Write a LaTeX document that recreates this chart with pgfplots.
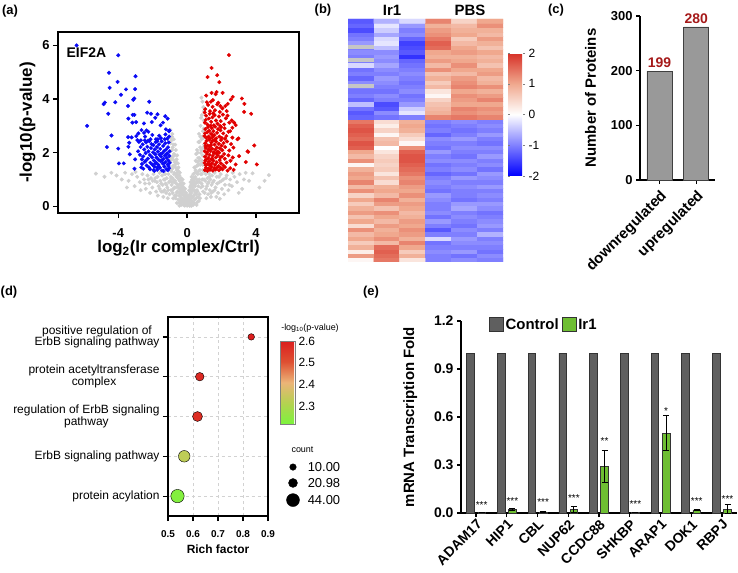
\documentclass[border=0pt]{standalone}
\usepackage{fontspec}
\setmainfont{Liberation Sans}
\usepackage{pgfplots}
\pgfplotsset{compat=1.18}
\newcommand{\fs}[1]{\fontsize{#1}{#1}\selectfont}
\definecolor{vblue}{RGB}{10,10,245}
\definecolor{vred}{RGB}{225,0,0}
\definecolor{vgray}{RGB}{208,208,208}
\definecolor{barg}{RGB}{153,153,153}
\definecolor{ctrl}{RGB}{95,95,95}
\definecolor{irg}{RGB}{110,190,50}
\definecolor{valred}{RGB}{165,25,25}
\begin{document}
\begin{tikzpicture}
\useasboundingbox (0,0) rectangle (738bp,-573bp);
% ---------------- (a) volcano
\begin{axis}[at={(58bp,-32bp)}, anchor=north west, scale only axis, width=241bp, height=181bp,
 xmin=-7.5, xmax=6.5, ymin=-0.25, ymax=6.5, xtick={-4,0,4}, ytick={0,2,4,6},
 tick pos=left, tick align=outside, major tick length=5bp,
 axis line style={line width=1.4bp}, every tick/.style={black, line width=1.4bp},
 /pgf/number format/assume math mode=true,
 ticklabel style={font=\bfseries\fs{13}},
 xticklabel style={yshift=-7bp},
 xlabel={log\textsubscript{2}(Ir complex/Ctrl)}, ylabel={-log10(p-value)},
 xlabel style={yshift=4bp},
 label style={font=\bfseries\fs{17}}]
\addplot[only marks, mark=*, mark size=1.8bp, color=vgray, mark options={draw=none}] coordinates {
(0.0,0.02)(0.03,0.1)(-0.04,0.08)(0.06,0.18)(-0.07,0.15)(0.02,0.25)(-0.02,0.3)(0.09,0.05)(-0.1,0.04)(0.11,0.35)(-0.12,0.28)
(0.14,0.12)(0.16,0.45)(0.19,0.28)(0.21,0.62)(0.23,0.08)(0.25,0.5)(0.27,0.85)(0.29,0.35)(0.18,0.72)(0.3,1.0)(0.24,0.2)
(-0.14,0.1)(-0.16,0.4)(-0.19,0.25)(-0.21,0.58)(-0.23,0.06)(-0.25,0.45)(-0.27,0.75)(-0.29,0.3)(-0.18,0.62)(-0.3,0.88)(-0.22,0.15)
(0.32,0.18)(0.34,0.6)(0.36,1.2)(0.38,0.4)(0.4,0.9)(0.42,1.45)(0.44,0.25)(0.46,0.75)(0.48,1.1)(0.5,1.7)(0.35,0.95)(0.47,0.5)(0.41,0.12)(0.49,1.35)
(-0.32,0.2)(-0.34,0.55)(-0.36,1.05)(-0.38,0.35)(-0.4,0.8)(-0.42,1.25)(-0.44,0.15)(-0.46,0.65)(-0.48,1.0)(-0.5,1.45)(-0.35,0.85)(-0.47,0.4)(-0.41,0.1)(-0.49,1.3)
(0.52,0.3)(0.54,0.9)(0.56,1.5)(0.58,2.1)(0.6,0.55)(0.62,1.2)(0.64,1.8)(0.66,2.4)(0.68,0.2)(0.7,1.0)(0.55,1.25)(0.61,2.0)(0.67,1.55)(0.59,0.15)(0.65,0.75)(0.69,2.7)(0.53,1.95)
(-0.52,0.25)(-0.54,0.8)(-0.56,1.4)(-0.58,1.9)(-0.6,0.5)(-0.62,1.1)(-0.64,1.65)(-0.66,2.1)(-0.68,0.3)(-0.7,0.95)(-0.55,1.15)(-0.61,1.75)(-0.67,1.45)(-0.59,0.12)(-0.65,0.7)(-0.69,2.3)(-0.53,1.6)
(0.72,0.45)(0.74,1.35)(0.76,2.2)(0.78,3.0)(0.8,0.7)(0.82,1.6)(0.84,2.5)(0.86,3.4)(0.88,1.0)(0.9,1.9)(0.92,2.8)(0.94,3.7)(0.96,1.3)(0.98,2.3)(0.73,1.8)(0.77,2.6)(0.81,3.3)(0.85,1.2)(0.89,3.9)(0.93,0.55)(0.97,3.2)(0.75,0.3)(0.83,4.05)(0.79,2.0)(0.91,1.55)(0.95,2.55)(0.99,3.55)(0.87,2.15)
(-0.72,0.4)(-0.74,1.25)(-0.76,1.95)(-0.78,2.5)(-0.8,0.65)(-0.82,1.5)(-0.84,2.2)(-0.86,2.7)(-0.88,0.9)(-0.9,1.75)(-0.92,2.45)(-0.94,1.1)(-0.96,2.05)(-0.98,1.4)(-0.73,1.65)(-0.77,2.3)(-0.81,0.3)(-0.85,1.05)(-0.89,2.6)(-0.93,0.6)(-0.97,2.85)(-0.75,0.9)(-0.83,1.85)(-0.91,1.3)(-0.95,2.35)(-0.99,1.65)
(1.02,0.5)(1.05,0.95)(1.08,1.2)(1.12,0.3)(1.15,0.75)(1.18,1.05)(1.22,0.45)(1.25,0.9)(1.28,1.22)(1.32,0.6)(1.35,1.0)(1.38,0.35)(1.42,0.8)(1.45,1.15)(1.5,0.55)(1.55,0.95)(1.6,1.25)
(1.65,0.7)(1.72,1.1)(1.8,0.5)(1.88,0.9)(1.95,1.2)(2.02,0.65)(2.1,1.0)(2.2,0.8)(2.3,1.15)(2.4,0.6)(2.5,1.0)(1.7,0.35)(2.15,0.45)(1.9,0.28)
(2.6,0.75)(2.75,1.1)(2.9,0.9)(3.05,1.2)(3.2,0.65)(3.4,1.25)(3.6,0.95)(3.8,1.23)(4.2,0.7)(4.5,0.95)(4.75,1.16)(3.0,0.5)(2.65,1.25)(3.3,1.0)
(-1.02,0.45)(-1.05,0.9)(-1.08,1.2)(-1.12,0.3)(-1.15,0.7)(-1.18,1.05)(-1.22,0.5)(-1.25,0.85)(-1.28,1.2)(-1.32,0.6)(-1.35,1.0)(-1.38,0.35)(-1.42,0.8)(-1.45,1.15)(-1.5,0.55)(-1.55,0.95)(-1.6,1.25)
(-1.65,0.75)(-1.72,1.1)(-1.8,0.55)(-1.88,0.95)(-1.95,1.2)(-2.02,0.7)(-2.1,1.05)(-2.2,0.85)(-2.3,1.15)(-2.4,0.65)(-2.5,1.0)(-1.7,0.4)(-2.15,0.5)(-2.6,1.2)
(-2.75,0.9)(-2.9,1.1)(-3.05,0.75)(-3.2,1.2)(-3.4,0.95)(-3.6,1.25)(-3.8,1.0)(-4.1,1.15)(-4.4,1.25)(-5.3,1.22)(-3.0,1.28)(-2.7,0.6)(-3.5,0.7)(-4.8,1.1)
(0.05,0.4)(-0.05,0.5)(0.12,0.6)(-0.12,0.65)(0.2,0.9)(-0.2,0.85)(0.08,0.3)(-0.08,0.22)(0.15,0.02)(-0.15,0.03)(0.33,0.8)(-0.33,0.7)(0.26,1.1)(-0.26,1.0)(0.44,1.0)(-0.44,0.95)(0.57,0.6)(-0.57,0.55)(0.63,0.35)(-0.63,0.4)
(0.01,0.12)(-0.01,0.18)(0.04,0.22)(-0.05,0.3)(0.07,0.38)(-0.09,0.42)(0.1,0.15)(-0.11,0.5)(0.13,0.25)(-0.13,0.35)(0.17,0.55)(-0.17,0.2)(0.2,0.4)(-0.2,0.7)(0.22,0.78)(-0.24,0.62)(0.26,0.3)(-0.26,0.2)(0.28,0.6)(-0.28,0.52)
(0.31,0.7)(-0.31,0.45)(0.33,0.35)(-0.33,1.0)(0.37,0.85)(-0.37,0.62)(0.39,1.05)(-0.39,0.25)(0.43,0.6)(-0.43,0.5)(0.45,1.25)(-0.45,1.15)(0.51,0.85)(-0.51,0.72)(0.53,0.45)(-0.53,1.05)(0.57,1.0)(-0.57,1.25)(0.6,1.65)(-0.6,1.35)
(0.63,0.9)(-0.63,0.85)(0.66,1.3)(-0.66,1.2)(0.7,1.7)(-0.7,1.55)(0.72,2.4)(-0.72,1.9)(0.74,0.9)(-0.74,0.7)(0.76,1.55)(-0.76,1.2)(0.8,1.2)(-0.8,1.0)(0.82,2.1)(-0.82,1.75)(0.84,0.85)(-0.84,0.5)(0.86,1.7)(-0.86,1.4)
(0.88,2.6)(-0.88,2.1)(0.9,0.75)(-0.9,0.8)(0.92,1.35)(-0.92,1.05)(0.94,2.2)(-0.94,1.8)(0.96,2.9)(-0.96,2.55)(0.98,1.0)(-0.98,0.95)(1.1,0.65)(-1.1,0.6)(1.2,0.85)(-1.2,0.8)(1.3,1.1)(-1.3,1.0)(1.4,0.5)(-1.4,0.55)
(1.5,0.9)(-1.5,0.85)(1.6,0.6)(-1.6,0.65)(1.75,0.85)(-1.75,0.9)(1.85,1.1)(-1.85,1.05)(2.0,0.95)(-2.0,0.95)(2.25,1.05)(-2.25,1.0)(2.45,0.8)(-2.45,0.85)(0.55,0.05)(-0.45,0.02)(0.35,0.05)(0.25,0.02)(-0.35,0.05)
};
\addplot[only marks, mark=*, mark size=1.8bp, color=vblue, mark options={draw=none}] coordinates {
(-6.42,6.0)(-4.0,5.63)(-4.54,4.98)(-3.0,4.85)(-4.04,4.64)(-4.5,4.42)(-3.55,4.36)(-3.02,4.37)(-3.84,4.16)(-3.07,4.02)(-3.13,3.97)(-4.78,3.87)(-4.85,3.81)(-4.17,3.88)(-2.2,3.9)(-3.43,3.74)(-4.58,3.45)(-3.16,3.41)(-3.06,3.41)(-2.32,3.49)(-2.1,3.45)(-1.72,3.43)(-1.27,3.36)(-1.13,3.27)(-3.41,3.27)(-3.18,3.12)(-2.96,3.14)(-1.85,3.3)(-2.05,3.14)(-2.51,3.09)(-1.4,3.12)(-1.54,3.02)(-1.23,2.87)(-1.02,2.83)(-1.05,2.8)(-2.65,2.84)(-2.36,2.83)(-2.5,2.74)(-2.25,2.78)(-2.83,2.72)(-3.22,2.57)(-3.43,2.58)(-4.39,2.64)(-2.89,2.47)(-2.69,2.46)(-2.46,2.46)(-2.13,2.5)(-1.81,2.5)(-1.74,2.42)(-1.52,2.54)(-1.15,2.52)(-3.36,2.37)(-3.41,2.22)(-4.66,2.21)(-5.81,3.0)(-4.0,2.15)(-3.33,1.94)(-3.02,1.75)(-2.63,1.75)(-3.96,1.6)(-3.68,1.6)(-3.06,1.4)(-2.54,1.4)(-2.15,1.38)(-1.95,1.35)(-1.75,1.44)(-1.37,1.31)(-1.08,1.5)
(-2.85,2.05)(-2.74,1.92)(-2.70,2.21)(-2.62,1.58)(-2.58,2.31)(-2.55,1.86)(-2.49,2.12)(-2.46,1.66)(-2.41,1.98)(-2.38,2.38)(-2.35,1.52)(-2.31,2.22)(-2.28,1.78)(-2.25,2.05)(-2.22,1.45)(-2.19,2.43)(-2.16,1.91)(-2.13,1.62)(-2.10,2.17)(-2.07,2.32)(-2.04,1.83)(-2.01,1.55)(-1.98,2.01)(-1.96,2.28)(-1.93,1.71)(-1.90,1.48)(-1.88,2.12)(-1.85,1.94)(-1.83,2.39)(-1.80,1.63)(-1.78,1.82)(-1.75,2.21)(-1.73,1.36)(-1.70,2.04)(-1.68,1.55)(-1.66,1.74)(-1.63,2.31)(-1.61,1.92)(-1.58,1.43)(-1.56,2.14)(-1.53,1.68)(-1.51,1.85)(-1.48,2.42)(-1.46,1.33)(-1.44,1.98)(-1.41,1.59)(-1.39,2.25)(-1.37,1.76)(-1.34,2.06)(-1.32,1.48)(-1.30,1.89)(-1.27,2.35)(-1.25,1.65)(-1.22,2.12)(-1.20,1.38)(-1.18,1.81)(-1.15,1.97)(-1.13,1.56)(-1.11,2.2)(-1.09,1.71)(-1.07,2.38)(-1.05,1.42)(-1.03,1.88)(-1.02,2.05)(-1.01,1.62)
(-2.95,2.62)(-2.80,2.4)(-2.66,1.45)(-2.44,2.6)(-2.02,2.66)(-1.62,2.63)(-1.26,2.68)(-1.9,1.32)(-1.45,1.72)(-1.2,1.95)(-1.64,1.49)(-2.27,2.45)(-1.35,1.6)(-1.55,1.95)(-1.12,1.35)(-1.7,2.5)(-2.4,1.7)(-1.85,1.6)(-1.05,2.6)(-1.3,2.5)
};
\addplot[only marks, mark=*, mark size=1.8bp, color=vred, mark options={draw=none}] coordinates {
(2.43,5.64)(1.42,5.16)(1.75,4.89)(1.19,4.82)(1.87,4.63)(1.11,4.13)(1.42,4.23)(1.71,4.26)(1.66,4.18)(2.06,4.23)(2.65,4.08)(3.18,4.02)(3.33,3.82)(2.36,3.82)(2.22,3.74)(1.5,3.96)(1.81,3.86)(1.93,3.74)(3.31,3.52)(3.72,3.45)(2.59,3.2)(2.82,3.03)(2.63,2.93)(2.4,2.78)(2.63,2.56)(2.98,2.53)(2.92,2.5)(3.9,2.27)(2.69,2.19)(3.51,2.05)(3.02,1.87)(3.41,1.65)(4.05,1.56)(2.82,1.56)(2.54,3.98)(2.73,3.12)(3.55,2.03)
(1.05,3.62)(1.22,3.78)(1.33,3.55)(1.48,3.71)(1.62,3.58)(1.15,3.88)(1.9,3.52)(2.05,3.65)(1.38,3.9)(1.02,3.5)(2.3,3.55)(1.75,3.8)
(1.03,3.12)(1.1,3.38)(1.18,3.05)(1.26,3.27)(1.31,3.45)(1.4,3.15)(1.47,3.32)(1.55,3.02)(1.6,3.4)(1.68,3.2)(1.77,3.08)(1.85,3.35)(1.95,3.18)(2.08,3.42)(2.15,3.05)(2.25,3.28)(2.45,3.12)(1.08,3.22)(1.36,3.01)(1.52,3.47)(1.92,3.0)(2.35,3.38)
(1.01,2.62)(1.06,2.88)(1.12,2.55)(1.17,2.76)(1.21,2.95)(1.25,2.6)(1.29,2.82)(1.34,2.52)(1.39,2.7)(1.43,2.92)(1.48,2.58)(1.53,2.8)(1.58,2.65)(1.63,2.97)(1.69,2.53)(1.74,2.74)(1.8,2.88)(1.87,2.6)(1.94,2.83)(2.01,2.55)(2.1,2.72)(2.18,2.91)(2.28,2.62)(2.5,2.8)(1.04,2.72)(1.45,2.68)(1.98,2.95)(2.2,2.52)
(1.02,2.05)(1.05,2.35)(1.09,2.18)(1.13,2.44)(1.16,2.02)(1.2,2.27)(1.24,2.12)(1.28,2.48)(1.32,2.22)(1.36,2.06)(1.41,2.38)(1.45,2.15)(1.5,2.45)(1.54,2.01)(1.59,2.3)(1.64,2.11)(1.69,2.41)(1.73,2.2)(1.79,2.04)(1.84,2.33)(1.9,2.16)(1.97,2.47)(2.04,2.09)(2.12,2.36)(2.21,2.21)(2.32,2.42)(2.45,2.08)(2.55,2.32)(1.07,2.25)(1.38,2.28)(1.62,2.47)(1.86,2.0)(2.0,2.26)
(1.01,1.62)(1.04,1.85)(1.08,1.53)(1.11,1.74)(1.15,1.95)(1.19,1.58)(1.23,1.8)(1.27,1.67)(1.31,1.92)(1.35,1.52)(1.4,1.75)(1.44,1.6)(1.49,1.88)(1.53,1.7)(1.57,1.98)(1.62,1.55)(1.67,1.82)(1.72,1.64)(1.78,1.9)(1.83,1.5)(1.89,1.72)(1.96,1.6)(2.03,1.86)(2.11,1.52)(2.19,1.77)(2.29,1.63)(2.4,1.9)(2.52,1.7)(2.65,1.82)(1.06,1.7)(1.29,1.55)(1.46,1.78)(1.7,1.97)(1.93,1.82)(2.15,1.95)
(1.03,1.35)(1.1,1.44)(1.18,1.32)(1.26,1.41)(1.33,1.36)(1.42,1.47)(1.5,1.33)(1.58,1.42)(1.66,1.37)(1.75,1.45)(1.85,1.34)(1.95,1.43)(2.06,1.38)(2.2,1.46)(2.35,1.33)(2.5,1.42)(2.7,1.36)
};
\node[anchor=west, font=\bfseries\fs{14}] at (axis cs:-7.2,5.72) {EIF2A};
\end{axis}
% ---------------- (b) heatmap
\begin{axis}[at={(348bp,-19bp)}, anchor=north west, scale only axis, width=155bp, height=243bp,
 xmin=-0.5, xmax=5.5, ymin=-0.5, ymax=55.5, axis lines=none, xtick=\empty, ytick=\empty,
 colormap={hm}{rgb255(0cm)=(0,0,255) rgb255(2cm)=(255,255,255) rgb255(3cm)=(240,168,142) rgb255(4cm)=(215,48,39)},
 point meta min=-2, point meta max=2,
 colorbar, colorbar shift/.style={},
 colorbar style={at={(parent axis.north east)}, anchor=north west, xshift=5bp, yshift=-34bp,
   scale only axis, width=17bp, height=123bp, ytick={-2,-1,0,1,2}, axis line style={draw=none},
   yticklabel style={font=\fs{12}, /pgf/number format/assume math mode=true}, major tick length=2bp, ytick style={draw=gray}}]
\addplot[matrix plot*, mesh/cols=6, mesh/rows=56, point meta=explicit] table[row sep=\\, meta=c] {
x y c\\
0 0 0.1\\ 1 0 1.4\\ 2 0 0.3\\ 3 0 -1.0\\ 4 0 -0.9\\ 5 0 -1.0\\
0 1 1.1\\ 1 1 1.5\\ 2 1 0.9\\ 3 1 -1.0\\ 4 1 -1.1\\ 5 1 -0.9\\
0 2 0.2\\ 1 2 1.6\\ 2 2 0.6\\ 3 2 -0.9\\ 4 2 -0.8\\ 5 2 -1.1\\
0 3 0.9\\ 1 3 1.5\\ 2 3 1.0\\ 3 3 -1.0\\ 4 3 -1.0\\ 5 3 -1.0\\
0 4 0.6\\ 1 4 0.8\\ 2 4 1.3\\ 3 4 -1.1\\ 4 4 -0.9\\ 5 4 -0.9\\
0 5 1.0\\ 1 5 1.2\\ 2 5 0.9\\ 3 5 -0.3\\ 4 5 -0.8\\ 5 5 -1.0\\
0 6 0.8\\ 1 6 1.0\\ 2 6 1.1\\ 3 6 -1.0\\ 4 6 -1.0\\ 5 6 -0.6\\
0 7 1.2\\ 1 7 0.9\\ 2 7 1.2\\ 3 7 -1.3\\ 4 7 -0.9\\ 5 7 -1.0\\
0 8 0.4\\ 1 8 1.1\\ 2 8 1.0\\ 3 8 -1.0\\ 4 8 -1.1\\ 5 8 -0.8\\
0 9 1.0\\ 1 9 0.8\\ 2 9 1.1\\ 3 9 -0.8\\ 4 9 -1.0\\ 5 9 -0.9\\
0 10 0.7\\ 1 10 1.0\\ 2 10 0.9\\ 3 10 -1.1\\ 4 10 -0.9\\ 5 10 -1.0\\
0 11 1.1\\ 1 11 1.2\\ 2 11 0.8\\ 3 11 -0.9\\ 4 11 -1.0\\ 5 11 -1.1\\
0 12 0.9\\ 1 12 0.7\\ 2 12 1.0\\ 3 12 -1.0\\ 4 12 -0.7\\ 5 12 -0.9\\
0 13 0.6\\ 1 13 1.1\\ 2 13 1.1\\ 3 13 -1.0\\ 4 13 -0.8\\ 5 13 -0.8\\
0 14 1.0\\ 1 14 1.3\\ 2 14 0.9\\ 3 14 -0.9\\ 4 14 -1.1\\ 5 14 -1.0\\
0 15 0.5\\ 1 15 0.8\\ 2 15 1.2\\ 3 15 -0.8\\ 4 15 -1.0\\ 5 15 -0.9\\
0 16 1.2\\ 1 16 1.0\\ 2 16 1.0\\ 3 16 -1.1\\ 4 16 -1.0\\ 5 16 -1.0\\
0 17 0.8\\ 1 17 0.9\\ 2 17 1.1\\ 3 17 -1.0\\ 4 17 -0.9\\ 5 17 -0.8\\
0 18 1.3\\ 1 18 0.4\\ 2 18 1.3\\ 3 18 -0.9\\ 4 18 -1.0\\ 5 18 -1.0\\
0 19 1.0\\ 1 19 0.7\\ 2 19 1.2\\ 3 19 -1.0\\ 4 19 -0.8\\ 5 19 -0.9\\
0 20 1.1\\ 1 20 0.3\\ 2 20 1.4\\ 3 20 -1.2\\ 4 20 -1.1\\ 5 20 -0.8\\
0 21 0.9\\ 1 21 0.6\\ 2 21 1.5\\ 3 21 -1.0\\ 4 21 -0.9\\ 5 21 -1.1\\
0 22 0.1\\ 1 22 0.5\\ 2 22 1.6\\ 3 22 -1.1\\ 4 22 -1.0\\ 5 22 -0.9\\
0 23 1.2\\ 1 23 0.6\\ 2 23 1.7\\ 3 23 -0.9\\ 4 23 -0.9\\ 5 23 -1.0\\
0 24 0.8\\ 1 24 0.5\\ 2 24 1.7\\ 3 24 -1.0\\ 4 24 -1.1\\ 5 24 -0.8\\
0 25 1.0\\ 1 25 0.3\\ 2 25 1.6\\ 3 25 -0.8\\ 4 25 -1.0\\ 5 25 -1.0\\
0 26 1.6\\ 1 26 0.0\\ 2 26 1.2\\ 3 26 -1.1\\ 4 26 -0.9\\ 5 26 -0.9\\
0 27 1.7\\ 1 27 0.8\\ 2 27 0.1\\ 3 27 -1.0\\ 4 27 -1.0\\ 5 27 -1.1\\
0 28 1.5\\ 1 28 0.7\\ 2 28 0.4\\ 3 28 -0.9\\ 4 28 -0.8\\ 5 28 -1.0\\
0 29 1.6\\ 1 29 0.1\\ 2 29 0.6\\ 3 29 -1.2\\ 4 29 -1.0\\ 5 29 -0.8\\
0 30 1.7\\ 1 30 0.5\\ 2 30 0.9\\ 3 30 -1.0\\ 4 30 -1.1\\ 5 30 -1.0\\
0 31 1.6\\ 1 31 0.2\\ 2 31 1.0\\ 3 31 -1.1\\ 4 31 -1.0\\ 5 31 -0.9\\
0 32 1.4\\ 1 32 0.4\\ 2 32 0.9\\ 3 32 -1.0\\ 4 32 -0.9\\ 5 32 -1.0\\
0 33 -1.2\\ 1 33 -1.1\\ 2 33 -1.0\\ 3 33 1.3\\ 4 33 1.4\\ 5 33 1.3\\
0 34 -1.3\\ 1 34 -0.9\\ 2 34 -0.2\\ 3 34 0.9\\ 4 34 1.2\\ 5 34 1.1\\
0 35 -1.1\\ 1 35 -1.3\\ 2 35 -0.4\\ 3 35 0.8\\ 4 35 1.3\\ 5 35 1.2\\
0 36 -0.5\\ 1 36 -1.4\\ 2 36 -0.8\\ 3 36 0.7\\ 4 36 1.0\\ 5 36 1.0\\
0 37 -1.2\\ 1 37 -1.0\\ 2 37 -1.0\\ 3 37 0.5\\ 4 37 1.1\\ 5 37 1.3\\
0 38 -1.0\\ 1 38 -0.9\\ 2 38 -1.1\\ 3 38 0.1\\ 4 38 1.2\\ 5 38 1.1\\
0 39 -1.1\\ 1 39 -1.1\\ 2 39 -0.9\\ 3 39 0.3\\ 4 39 1.0\\ 5 39 0.9\\
0 40 -1.0\\ 1 40 -1.0\\ 2 40 -1.0\\ 3 40 0.8\\ 4 40 1.3\\ 5 40 1.2\\
0 41 -0.9\\ 1 41 -0.9\\ 2 41 -1.1\\ 3 41 0.6\\ 4 41 1.2\\ 5 41 0.9\\
0 42 -1.2\\ 1 42 -0.8\\ 2 42 -1.0\\ 3 42 0.9\\ 4 42 1.1\\ 5 42 0.8\\
0 43 -1.0\\ 1 43 -1.0\\ 2 43 -0.9\\ 3 43 0.7\\ 4 43 0.8\\ 5 43 1.1\\
0 44 -1.1\\ 1 44 -0.9\\ 2 44 -1.0\\ 3 44 1.2\\ 4 44 1.0\\ 5 44 1.0\\
0 45 -0.3\\ 1 45 -0.7\\ 2 45 -1.1\\ 3 45 0.8\\ 4 45 1.2\\ 5 45 0.7\\
0 46 -1.0\\ 1 46 -0.9\\ 2 46 -1.2\\ 3 46 1.1\\ 4 46 1.0\\ 5 46 0.9\\
0 47 -1.0\\ 1 47 -0.8\\ 2 47 -1.6\\ 3 47 0.9\\ 4 47 0.9\\ 5 47 0.8\\
0 48 -0.9\\ 1 48 -0.9\\ 2 48 -1.3\\ 3 48 1.0\\ 4 48 1.1\\ 5 48 1.0\\
0 49 -1.0\\ 1 49 -0.5\\ 2 49 -1.4\\ 3 49 1.5\\ 4 49 1.0\\ 5 49 0.7\\
0 50 -0.8\\ 1 50 -0.2\\ 2 50 -1.5\\ 3 50 1.6\\ 4 50 0.8\\ 5 50 0.9\\
0 51 -1.0\\ 1 51 -0.3\\ 2 51 -1.2\\ 3 51 1.4\\ 4 51 0.6\\ 5 51 1.1\\
0 52 -1.1\\ 1 52 -0.7\\ 2 52 -0.9\\ 3 52 1.2\\ 4 52 1.0\\ 5 52 0.8\\
0 53 -1.4\\ 1 53 -0.4\\ 2 53 -1.0\\ 3 53 1.1\\ 4 53 0.9\\ 5 53 0.9\\
0 54 -1.2\\ 1 54 -0.2\\ 2 54 -0.8\\ 3 54 0.9\\ 4 54 0.8\\ 5 54 1.2\\
0 55 -1.3\\ 1 55 -0.6\\ 2 55 -0.3\\ 3 55 1.3\\ 4 55 0.5\\ 5 55 1.0\\
};
\addplot[fill=gray!45, draw=none] coordinates {(-0.5,48.5) (0.5,48.5) (0.5,49.5) (-0.5,49.5)} -- cycle;
\addplot[fill=gray!45, draw=none] coordinates {(-0.5,45.5) (0.5,45.5) (0.5,46.5) (-0.5,46.5)} -- cycle;
\addplot[fill=gray!45, draw=none] coordinates {(-0.5,39.5) (0.5,39.5) (0.5,40.5) (-0.5,40.5)} -- cycle;
\end{axis}
% ---------------- (c) bars
\begin{axis}[at={(640bp,-16bp)}, anchor=north west, scale only axis, width=75bp, height=164bp,
 xmin=-0.53, xmax=1.51, ymin=0, ymax=300, ytick={0,100,200,300}, xtick={0,1},
 xticklabels={downregulated,upregulated},
 axis x line*=bottom, axis y line*=left, tick align=outside, major tick length=4bp,
 axis line style={line width=1.2bp}, every tick/.style={black, line width=1.2bp},
 /pgf/number format/assume math mode=true,
 yticklabel style={font=\bfseries\fs{13}},
 xticklabel style={rotate=45, anchor=north east, font=\bfseries\fs{15}},
 ylabel={Number of Proteins}, ylabel style={font=\bfseries\fs{15}, yshift=8bp}]
\addplot[ybar, bar width=25bp, fill=barg, draw=black!75, line width=0.8bp,
 nodes near coords, nodes near coords style={font=\bfseries\fs{14}, color=valred}] coordinates {(0,199) (1,280)};
\end{axis}
% ---------------- (d) bubble
\begin{axis}[at={(168bp,-317bp)}, anchor=north west, scale only axis, width=100bp, height=199bp,
 xmin=0.5, xmax=0.9, ymin=0.5, ymax=5.5, clip=false,
 xtick={0.5,0.6,0.7,0.8,0.9}, ytick={1,2,3,4,5},
 yticklabels={protein acylation, ErbB signaling pathway, {regulation of ErbB signaling\\pathway}, {protein acetyltransferase\\complex}, {positive regulation of\\ErbB signaling pathway}},
 yticklabel style={align=center, font=\fs{12}},
 xticklabel style={yshift=-6bp, font=\bfseries\fs{10}, /pgf/number format/fixed, /pgf/number format/fixed zerofill, /pgf/number format/precision=1},
 /pgf/number format/assume math mode=true,
 grid=major, grid style={dashed, gray!35, line width=0.6bp},
 tick pos=left, tick align=outside, major tick length=5bp,
 axis line style={line width=1.2bp}, every tick/.style={black, line width=1.2bp},
 xlabel={Rich factor}, xlabel style={font=\bfseries\fs{12}, yshift=0bp},
 colormap={pv}{rgb255(0cm)=(124,244,60) rgb255(1cm)=(180,210,80) rgb255(2cm)=(236,180,120) rgb255(3cm)=(222,80,50) rgb255(4cm)=(220,30,30)},
 point meta min=2.218, point meta max=2.6,
 colorbar, colorbar shift/.style={},
 colorbar style={at={(parent axis.north east)}, anchor=north west, xshift=12bp, yshift=-24bp,
   scale only axis, width=15bp, height=83bp, ytick={2.3,2.4,2.5,2.6}, axis line style={draw=gray, line width=0.8bp},
   yticklabel style={font=\fs{12}, /pgf/number format/assume math mode=true, /pgf/number format/fixed, /pgf/number format/fixed zerofill, /pgf/number format/precision=1},
   ytick style={draw=none}}]
\addplot[scatter, only marks, mark=*, scatter src=explicit,
 scatter/use mapped color={draw=none, fill=mapped color},
 visualization depends on={\thisrow{r} \as \rad},
 scatter/@pre marker code/.append style={/tikz/mark size=\rad}] table[meta=p] {
x y p r
0.833 5 2.60 3.3
0.627 4 2.58 4.3
0.618 3 2.57 5.0
0.565 2 2.33 5.8
0.538 1 2.23 6.7
};
\addplot[only marks, mark=*, black, visualization depends on={\thisrow{r} \as \rad},
 scatter, scatter/use mapped color={draw=none, fill=black},
 scatter/@pre marker code/.append style={/tikz/mark size=\rad}] table {
x y r
1.0 1.73 3.3
1.0 1.33 4.5
1.0 0.90 6.5
};
\node[anchor=west, font=\fs{9}] at (axis cs:0.98,2.16) {count};
\node[anchor=west, font=\fs{13}] at (axis cs:1.045,1.73) {10.00};
\node[anchor=west, font=\fs{13}] at (axis cs:1.045,1.33) {20.98};
\node[anchor=west, font=\fs{13}] at (axis cs:1.045,0.90) {44.00};
\end{axis}
\node[font=\fs{9}] at (310bp,-328bp) {-log\textsubscript{10}(p-value)};
% ---------------- (e) qPCR
\begin{axis}[at={(461bp,-321bp)}, anchor=north west, scale only axis, width=276bp, height=192bp,
 xmin=-0.49, xmax=8.49, ymin=0, ymax=1.2, ytick={0,0.3,0.6,0.9,1.2},
 /pgf/number format/assume math mode=true,
 yticklabel style={font=\bfseries\fs{14}, /pgf/number format/fixed, /pgf/number format/fixed zerofill, /pgf/number format/precision=1},
 xtick={0,1,2,3,4,5,6,7,8}, xticklabels={ADAM17,HIP1,CBL,NUP62,CCDC88,SHKBP,ARAP1,DOK1,RBPJ},
 xticklabel style={rotate=45, anchor=north east, inner sep=1bp, font=\bfseries\fs{14}},
 axis x line*=bottom, axis y line*=left, tick align=outside, major tick length=4bp,
 axis line style={line width=1.2bp}, every tick/.style={black, line width=1.2bp},
 ylabel={mRNA Transcription Fold}, ylabel style={font=\bfseries\fs{15}, yshift=10bp},
 legend style={at={(0.09,1.035)}, anchor=north west, draw=none, fill=none, legend columns=2,
   font=\bfseries\fs{15}, /tikz/every even column/.append style={column sep=1bp}},
 legend image code/.code={\draw (0bp,-7bp) rectangle (14bp,7bp);}]
\addplot[ybar, bar width=7.7bp, bar shift=0pt, fill=ctrl, draw=black!80, line width=0.6bp] coordinates {(-0.182,1)(0.818,1)(1.818,1)(2.818,1)(3.818,1)(4.818,1)(5.818,1)(6.818,1)(7.818,1)};
\addlegendentry{Control}
\addplot[ybar, bar width=7.7bp, bar shift=0pt, fill=irg, draw=black!80, line width=0.6bp,
 error bars/.cd, y dir=both, y explicit, error bar style={black, line width=0.8bp}, error mark options={rotate=90, black, mark size=3bp, line width=0.8bp}] coordinates {
(0.182,0.002) +- (0,0) (1.182,0.022) +- (0,0.004) (2.182,0.007) +- (0,0.002) (3.182,0.022) +- (0,0.02) (4.182,0.29) +- (0,0.1)
(5.182,0.002) +- (0,0) (6.182,0.50) +- (0,0.11) (7.182,0.02) +- (0,0.002) (8.182,0.025) +- (0,0.03)};
\addlegendentry{Ir1}
\addplot[draw=none, nodes near coords, point meta=explicit symbolic,
 every node near coord/.append style={font=\fs{10}, anchor=center}] coordinates {
(0.182,0.05)[***] (1.182,0.076)[***] (2.182,0.066)[***] (3.182,0.095)[***] (4.182,0.45)[**] (5.182,0.056)[***] (6.182,0.64)[*] (7.182,0.076)[***] (8.182,0.09)[***]};
\end{axis}
% ---------------- panel labels and heatmap column labels
\node[font=\bfseries\fs{13}] at (10bp,-11bp) {(a)};
\node[font=\bfseries\fs{13}] at (323bp,-10bp) {(b)};
\node[font=\bfseries\fs{13}] at (556bp,-10bp) {(c)};
\node[font=\bfseries\fs{13}] at (9bp,-292bp) {(d)};
\node[font=\bfseries\fs{13}] at (371bp,-292bp) {(e)};
\node[font=\bfseries\fs{15}] at (392bp,-10bp) {Ir1};
\node[font=\bfseries\fs{15}] at (470bp,-10bp) {PBS};
\end{tikzpicture}
\end{document}
